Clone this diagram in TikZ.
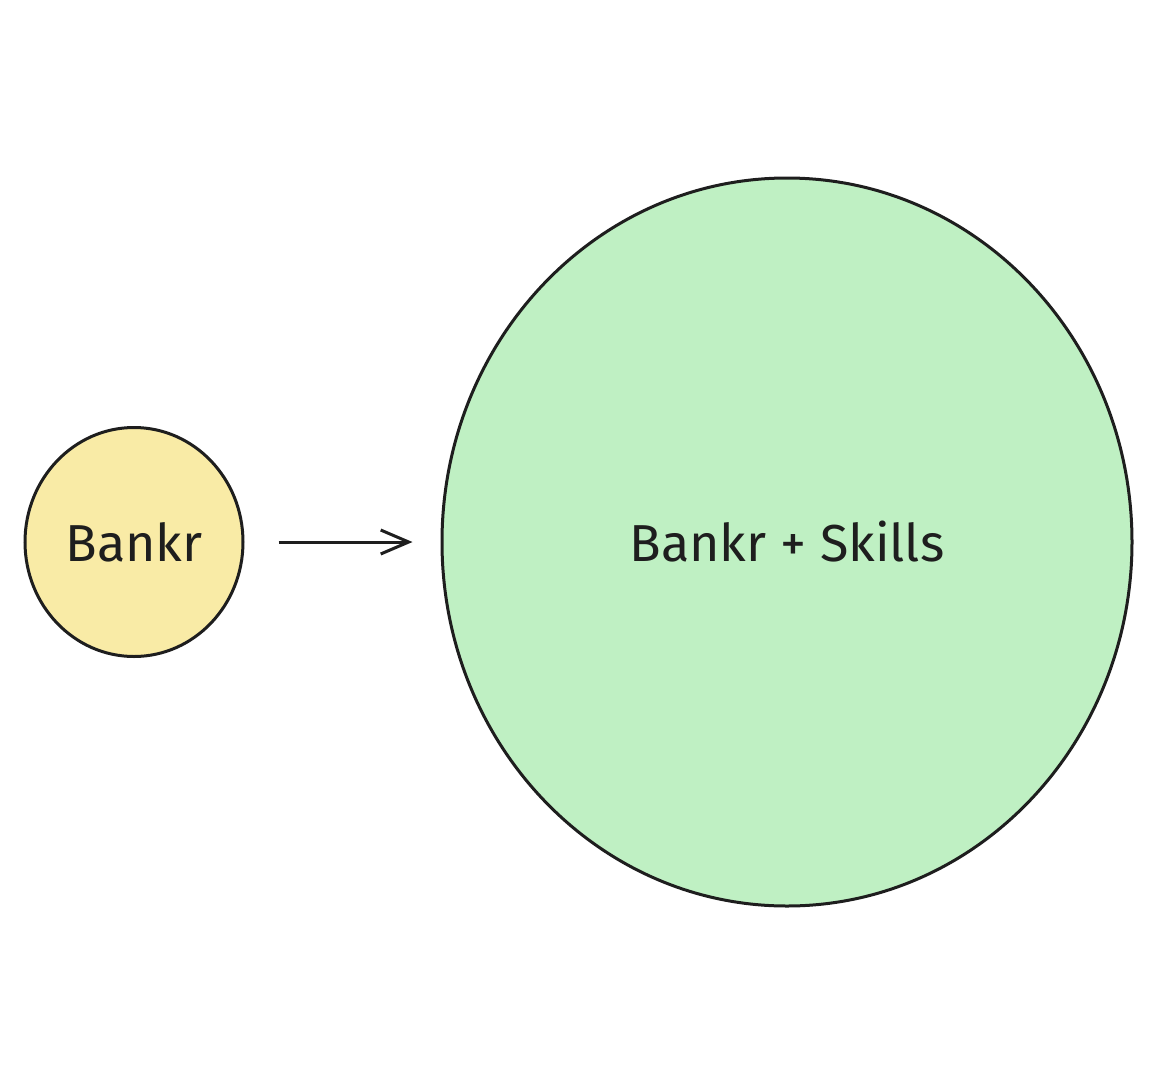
\documentclass[tikz,border=0pt]{standalone}
\usepackage{fontspec}
\setmainfont{Fira Sans}
\usetikzlibrary{shapes.geometric,arrows.meta}
\definecolor{inkc}{HTML}{1E1E1E}
\definecolor{yelfill}{HTML}{F9EBA6}
\definecolor{grnfill}{HTML}{BFF0C3}
\tikzset{
  blob/.style={ellipse, draw=inkc, line width=3pt, inner sep=0pt, text=inkc,
    font=\fontsize{52}{58}\selectfont},
  conn/.style={draw=inkc, line width=3pt, -{Straight Barb[length=28pt,width=24pt,line width=3pt]}}
}
\begin{document}
\begin{tikzpicture}[x=1pt,y=-1pt]
\useasboundingbox (0,0) rectangle (1170,1079);
\node[blob, fill=yelfill, minimum width=218pt, minimum height=229pt] (small) at (134,542) {Bankr};
\node[blob, fill=grnfill, minimum width=690pt, minimum height=728pt] (big) at (787,542) {Bankr + Skills};
\draw[conn] ([xshift=34pt]small.east) -- ([xshift=-28pt]big.west);
\end{tikzpicture}
\end{document}
